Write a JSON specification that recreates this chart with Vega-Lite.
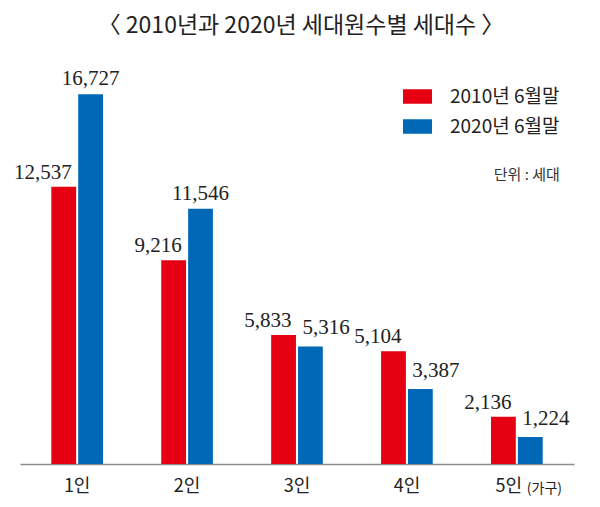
{
  "$schema": "https://vega.github.io/schema/vega-lite/v6.json",
  "width": 554,
  "height": 398,
  "autosize": "none",
  "padding": {"left": 20, "top": 66, "right": 26, "bottom": 43},
  "background": "white",
  "title": {"text": "〈 2010년과 2020년 세대원수별 세대수 〉", "font": "Noto Sans CJK KR", "fontSize": 23, "fontWeight": "normal", "color": "#222222", "anchor": "middle", "offset": 28, "dx": 4},
  "config": {"view": {"stroke": null}},
  "data": {"values": [
    {"cat": "1인", "year": "2010년 6월말", "value": 12537},
    {"cat": "1인", "year": "2020년 6월말", "value": 16727},
    {"cat": "2인", "year": "2010년 6월말", "value": 9216},
    {"cat": "2인", "year": "2020년 6월말", "value": 11546},
    {"cat": "3인", "year": "2010년 6월말", "value": 5833},
    {"cat": "3인", "year": "2020년 6월말", "value": 5316},
    {"cat": "4인", "year": "2010년 6월말", "value": 5104},
    {"cat": "4인", "year": "2020년 6월말", "value": 3387},
    {"cat": "5인", "year": "2010년 6월말", "value": 2136},
    {"cat": "5인", "year": "2020년 6월말", "value": 1224}
  ]},
  "encoding": {
    "x": {
      "field": "cat", "type": "nominal", "sort": ["1인", "2인", "3인", "4인", "5인"],
      "scale": {"paddingInner": 0.53, "paddingOuter": 0.285},
      "axis": {"title": null, "domainColor": "#8c8c8c", "domainWidth": 1.5, "ticks": false, "labelAngle": 0,
        "labelFont": "Noto Sans CJK KR", "labelFontSize": 18, "labelColor": "#222222", "labelPadding": 13,
        "labelOffset": {"condition": {"test": "datum.value === '5인'", "value": -8}, "value": 0}}
    }
  },
  "layer": [
    {
      "mark": {"type": "bar"},
      "encoding": {
        "xOffset": {"field": "year", "type": "nominal", "scale": {"paddingInner": 0.077}},
        "y": {"field": "value", "type": "quantitative", "scale": {"domain": [0, 18000]}, "axis": null},
        "color": {"field": "year", "type": "nominal",
          "scale": {"domain": ["2010년 6월말", "2020년 6월말"], "range": ["#e50012", "#0068b7"]},
          "legend": {"title": null, "orient": "none", "legendX": 383, "legendY": 16,
            "symbolType": "M-1,-0.5H1V0.5H-1Z", "symbolSize": 841, "symbolStrokeWidth": 0,
            "labelFont": "Noto Sans CJK KR", "labelFontSize": 19, "labelColor": "#222222",
            "labelOffset": 18, "rowPadding": 5, "padding": 0}}
      }
    },
    {
      "transform": [{"filter": "datum.year === '2010년 6월말'"}],
      "mark": {"type": "text", "font": "Liberation Serif", "fontSize": 21, "color": "#222222", "align": "right", "baseline": "alphabetic", "dx": 8, "dy": -8},
      "encoding": {
        "xOffset": {"field": "year", "type": "nominal"},
        "y": {"field": "value", "type": "quantitative"},
        "text": {"field": "value", "type": "quantitative", "format": ",d"}
      }
    },
    {
      "transform": [{"filter": "datum.year === '2020년 6월말' && (datum.cat === '1인' || datum.cat === '2인')"}],
      "mark": {"type": "text", "font": "Liberation Serif", "fontSize": 21, "color": "#222222", "align": "center", "baseline": "alphabetic", "dy": -9},
      "encoding": {
        "xOffset": {"field": "year", "type": "nominal"},
        "y": {"field": "value", "type": "quantitative"},
        "text": {"field": "value", "type": "quantitative", "format": ",d"}
      }
    },
    {
      "transform": [{"filter": "datum.year === '2020년 6월말' && datum.cat !== '1인' && datum.cat !== '2인'"}],
      "mark": {"type": "text", "font": "Liberation Serif", "fontSize": 21, "color": "#222222", "align": "left", "baseline": "alphabetic", "dx": -8, "dy": -12},
      "encoding": {
        "xOffset": {"field": "year", "type": "nominal"},
        "y": {"field": "value", "type": "quantitative"},
        "text": {"field": "value", "type": "quantitative", "format": ",d"}
      }
    },
    {
      "data": {"values": [{"cat": "5인", "note": "(가구)"}]},
      "mark": {"type": "text", "font": "Noto Sans CJK KR", "fontSize": 14, "color": "#222222", "align": "left", "baseline": "middle", "dx": 10, "dy": 25},
      "encoding": {
        "y": {"datum": 0},
        "text": {"field": "note"}
      }
    },
    {
      "data": {"values": [{"cat": "5인", "note": "단위 : 세대"}]},
      "mark": {"type": "text", "font": "Noto Sans CJK KR", "fontSize": 15, "color": "#333333", "align": "right", "baseline": "middle", "dx": 43},
      "encoding": {
        "y": {"datum": 13070},
        "text": {"field": "note"}
      }
    }
  ]
}
